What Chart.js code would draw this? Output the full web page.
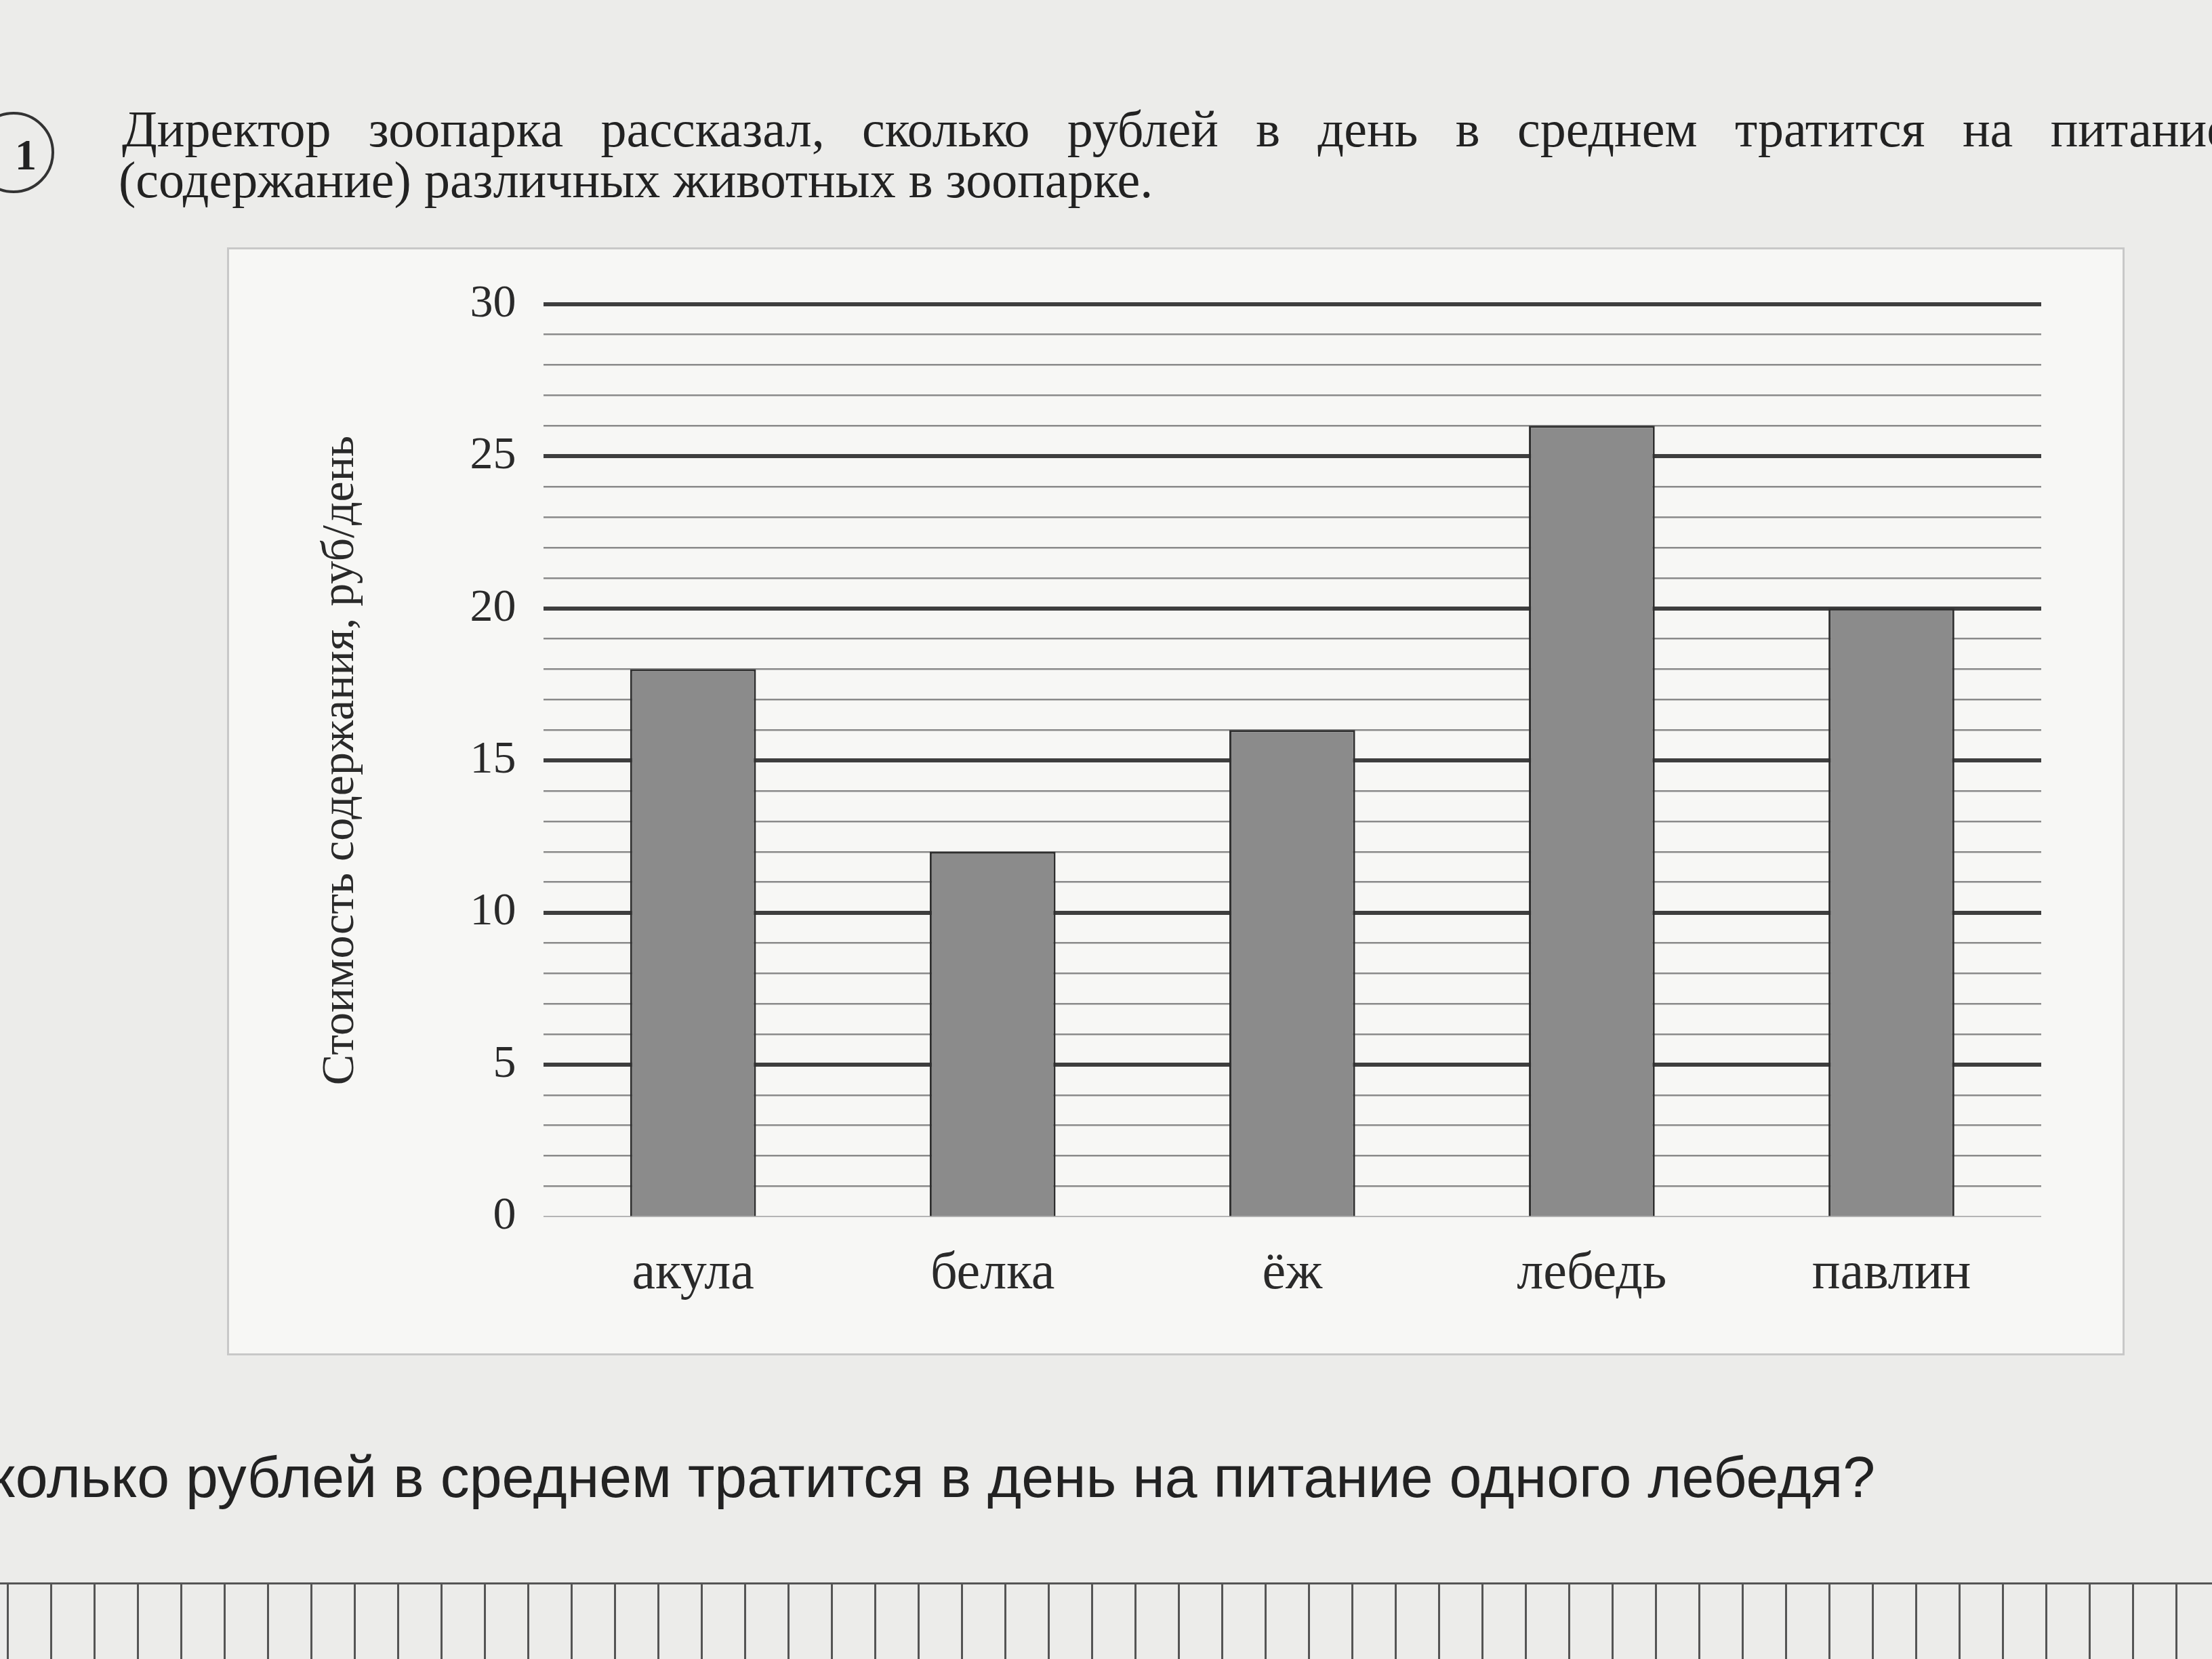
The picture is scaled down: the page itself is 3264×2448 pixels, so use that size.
<!DOCTYPE html>
<html lang="ru">
<head>
    <meta charset="UTF-8">
    <title>Стоимость содержания животных</title>
    <script src="https://cdn.jsdelivr.net/npm/chart.js"></script>
    <style>
        body {
            margin: 0;
            width: 3264px;
            height: 2448px;
            background-color: #ececea;
            position: relative;
            overflow: hidden;
            font-family: "Liberation Serif", serif;
            color: #222;
        }
        .num {
            position: absolute;
            left: -40px;
            top: 165px;
            width: 120px;
            height: 120px;
            border: 4px solid #333;
            border-radius: 50%;
            font-size: 64px;
            font-weight: bold;
            line-height: 120px;
            text-align: right;
            padding-right: 22px;
            box-sizing: border-box;
        }
        .task {
            position: absolute;
            left: 180px;
            top: 150px;
            width: 3110px;
            font-size: 76px;
            line-height: 80px;
            text-align: justify;
            text-align-last: justify;
        }
        .task2 {
            position: absolute;
            left: 175px;
            top: 225px;
            font-size: 76px;
            line-height: 80px;
        }
        .chart-box {
            position: absolute;
            left: 335px;
            top: 365px;
            width: 2800px;
            height: 1635px;
            background-color: #f7f7f5;
            border: 3px solid #c8c8c8;
            box-sizing: border-box;
        }
        .question {
            position: absolute;
            left: -78px;
            top: 2130px;
            font-family: "Liberation Sans", sans-serif;
            font-size: 86px;
            color: #222;
        }
        .cells {
            position: absolute;
            left: 0;
            top: 2335px;
            width: 3264px;
            height: 120px;
            border-top: 3px solid #555;
            background-image: repeating-linear-gradient(to right, #555 0 3px, transparent 3px 64px);
            background-position: 330px 0;
        }
    </style>
</head>
<body>

    <div class="num">1</div>
    <div class="task">Директор зоопарка рассказал, сколько рублей в день в среднем тратится на питание</div>
    <div class="task2">(содержание) различных животных в зоопарке.</div>

    <div class="chart-box">
        <canvas id="zooChart"></canvas>
    </div>

    <div class="question">Сколько рублей в среднем тратится в день на питание одного лебедя?</div>
    <div class="cells"></div>

    <script>
        // --- Data ---
        const animals = ['акула', 'белка', 'ёж', 'лебедь', 'павлин'];
        const costPerDay = [18, 12, 16, 26, 20];
        const yMin = 0;
        const yMax = 30;
        const majorStep = 5;

        const canvas = document.getElementById('zooChart');
        canvas.width = 2794;
        canvas.height = 1629;
        canvas.style.width = '2794px';
        canvas.style.height = '1629px';

        const serif = '"Liberation Serif", serif';

        const config = {
            type: 'bar',
            data: {
                labels: animals,
                datasets: [{
                    label: 'Стоимость содержания, руб/день',
                    data: costPerDay,
                    backgroundColor: '#8b8b8b',
                    borderColor: '#2e2e2e',
                    borderWidth: 3,
                    barPercentage: 0.42,
                    categoryPercentage: 1.0
                }]
            },
            options: {
                responsive: false,
                animation: false,
                layout: {
                    padding: { left: 120, right: 120, top: 60, bottom: 40 }
                },
                plugins: {
                    legend: { display: false },
                    tooltip: { enabled: false }
                },
                scales: {
                    x: {
                        grid: { display: false },
                        border: { display: false },
                        ticks: {
                            color: '#2a2a2a',
                            font: { family: serif, size: 78 },
                            padding: 30
                        }
                    },
                    y: {
                        min: yMin,
                        max: yMax,
                        border: { display: false },
                        title: {
                            display: true,
                            text: 'Стоимость содержания, руб/день',
                            color: '#2a2a2a',
                            font: { family: serif, size: 68 },
                            padding: { bottom: 110 }
                        },
                        grid: {
                            drawTicks: false,
                            color: (ctx) => {
                                const v = ctx.tick.value;
                                if (v === 0) return '#b5b5b5';
                                return v % majorStep === 0 ? '#3e3e3e' : '#8a8a8a';
                            },
                            lineWidth: (ctx) => {
                                const v = ctx.tick.value;
                                if (v === 0) return 2;
                                return v % majorStep === 0 ? 6 : 2.5;
                            }
                        },
                        ticks: {
                            stepSize: 1,
                            autoSkip: false,
                            color: '#2a2a2a',
                            font: { family: serif, size: 68 },
                            padding: 40,
                            callback: (value) => value % majorStep === 0 ? value : ''
                        }
                    }
                }
            }
        };

        const ctx = canvas.getContext('2d');
        new Chart(ctx, config);
    </script>

</body>
</html>
